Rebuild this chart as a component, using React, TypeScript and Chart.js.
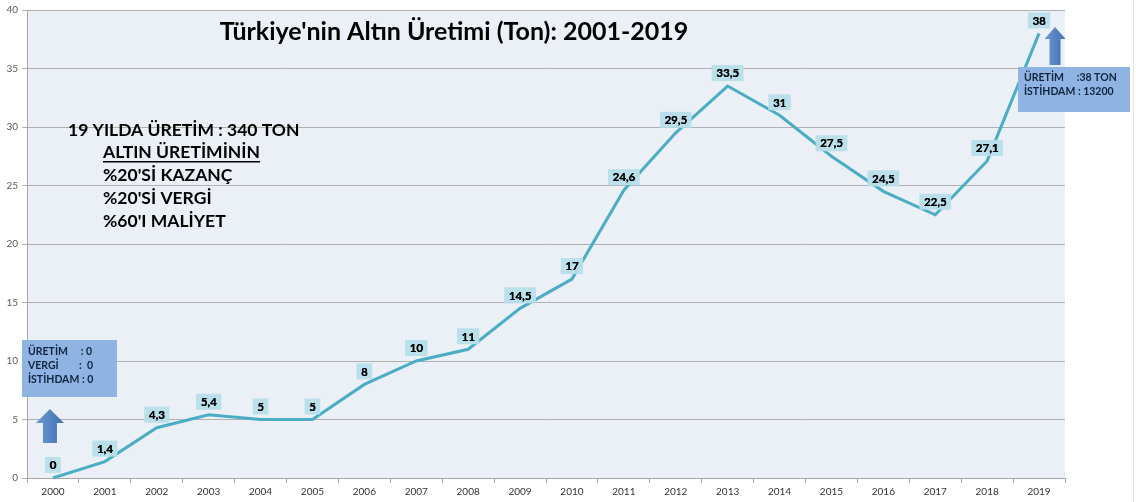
import React, { useEffect, useRef } from 'react';
import { Chart, registerables } from 'chart.js';

Chart.register(...registerables);

const years = ['2000', '2001', '2002', '2003', '2004', '2005', '2006', '2007', '2008', '2009', '2010', '2011', '2012', '2013', '2014', '2015', '2016', '2017', '2018', '2019'];
const production = [0, 1.4, 4.3, 5.4, 5, 5, 8, 10, 11, 14.5, 17, 24.6, 29.5, 33.5, 31, 27.5, 24.5, 22.5, 27.1, 38];
const yMin = 0;
const yMax = 40;
const yStep = 5;

const chartTitle = "Türkiye'nin Altın Üretimi (Ton): 2001-2019";
const summaryHeadline = '19 YILDA ÜRETİM : 340 TON';
const summaryUnderlined = 'ALTIN ÜRETİMİNİN';
const summaryLines = ["%20'Sİ KAZANÇ", "%20'Sİ VERGİ", "%60'I MALİYET"];
const startBoxLines = ['ÜRETİM     : 0', 'VERGİ        :  0', 'İSTİHDAM : 0'];
const endBoxLines = ['ÜRETİM     :38 TON', 'İSTİHDAM : 13200'];

const FONT = 'Lato, "Open Sans", "DejaVu Sans", sans-serif';
const LINE_COLOR = '#4BACC6';
const PLOT_BG = '#EAF0F5';
const BOX_BG = '#8FB4E3';

function drawUpArrow(ctx: CanvasRenderingContext2D, cx: number, tipY: number, headW: number, headH: number, shaftW: number, totalH: number) {
  ctx.save();
  const g = ctx.createLinearGradient(cx - headW / 2, 0, cx + headW / 2, 0);
  g.addColorStop(0, '#6E9AD6');
  g.addColorStop(1, '#3F6FB0');
  ctx.fillStyle = g;
  ctx.beginPath();
  ctx.moveTo(cx, tipY);
  ctx.lineTo(cx + headW / 2, tipY + headH);
  ctx.lineTo(cx + shaftW / 2, tipY + headH);
  ctx.lineTo(cx + shaftW / 2, tipY + totalH);
  ctx.lineTo(cx - shaftW / 2, tipY + totalH);
  ctx.lineTo(cx - shaftW / 2, tipY + headH);
  ctx.lineTo(cx - headW / 2, tipY + headH);
  ctx.closePath();
  ctx.fill();
  ctx.restore();
}

const decorPlugin = {
  id: 'decor',
  beforeDraw(chart: any) {
    const { ctx, chartArea } = chart;
    ctx.save();
    ctx.fillStyle = '#ffffff';
    ctx.fillRect(0, 0, chart.width, chart.height);
    ctx.fillStyle = PLOT_BG;
    ctx.fillRect(chartArea.left, chartArea.top, chartArea.right - chartArea.left, chartArea.bottom - chartArea.top);
    ctx.restore();
  },
  afterDatasetsDraw(chart: any) {
    const { ctx, scales } = chart;
    const xs = scales.x;
    const ys = scales.y;
    ctx.save();
    ctx.font = `bold 11.5px ${FONT}`;
    ctx.textAlign = 'center';
    ctx.textBaseline = 'middle';
    production.forEach((v, i) => {
      const x = xs.getPixelForValue(i);
      const y = ys.getPixelForValue(v) - 13;
      const txt = String(v).replace('.', ',');
      const w = ctx.measureText(txt).width + 9;
      const h = 16;
      ctx.fillStyle = 'rgba(183,222,234,0.95)';
      ctx.fillRect(x - w / 2, y - h / 2, w, h);
      ctx.fillStyle = '#000';
      ctx.fillText(txt, x, y + 0.5);
      ctx.fillText(txt, x + 0.3, y + 0.5);
    });
    ctx.restore();
  },
  afterDraw(chart: any) {
    const { ctx, scales } = chart;
    const xs = scales.x;
    ctx.save();
    // title
    ctx.fillStyle = '#000';
    ctx.textAlign = 'center';
    ctx.textBaseline = 'middle';
    ctx.font = `bold 25px ${FONT}`;
    ctx.fillText(chartTitle, 454, 32);

    // summary block
    ctx.textAlign = 'left';
    ctx.font = `bold 17.5px ${FONT}`;
    ctx.fillText(summaryHeadline, 68, 130);
    ctx.fillText(summaryUnderlined, 103, 152);
    const uw = ctx.measureText(summaryUnderlined).width;
    ctx.fillRect(103, 161, uw, 1.5);
    summaryLines.forEach((t, i) => ctx.fillText(t, 103, 175 + i * 23));

    // start box
    const x0 = xs.getPixelForValue(0);
    ctx.fillStyle = BOX_BG;
    ctx.fillRect(22, 340, 95, 57);
    ctx.fillStyle = '#0F243E';
    ctx.font = `bold 10.5px ${FONT}`;
    startBoxLines.forEach((t, i) => ctx.fillText(t, 28, 352 + i * 14));
    drawUpArrow(ctx, x0 - 3, 409, 28, 14, 14, 34);

    // end box
    const x19 = xs.getPixelForValue(production.length - 1);
    drawUpArrow(ctx, x19 + 16, 27, 21, 12, 11, 38);
    ctx.fillStyle = BOX_BG;
    ctx.fillRect(1018, 67, 112, 45);
    ctx.fillStyle = '#0F243E';
    ctx.font = `bold 10.5px ${FONT}`;
    endBoxLines.forEach((t, i) => ctx.fillText(t, 1024, 78 + i * 14));

    // outer faint border on the right
    ctx.fillStyle = '#E3E3E3';
    ctx.fillRect(chart.width - 3, 0, 1, chart.height);
    ctx.restore();
  },
};

export default function App() {
  const ref = useRef<HTMLCanvasElement>(null);
  useEffect(() => {
    document.body.style.margin = '0';
    const chart = new Chart(ref.current!, {
      type: 'line',
      data: {
        labels: years,
        datasets: [
          {
            data: production,
            borderColor: LINE_COLOR,
            borderWidth: 3,
            pointRadius: 0,
            tension: 0,
            fill: false,
          },
        ],
      },
      options: {
        animation: false,
        responsive: true,
        maintainAspectRatio: false,
        layout: { padding: { top: 6, right: 71, left: 0, bottom: 0 } },
        plugins: {
          legend: { display: false },
          tooltip: { enabled: false },
          title: { display: false },
        },
        scales: {
          x: {
            type: 'category',
            offset: true,
            grid: { offset: true, drawOnChartArea: false, drawTicks: true, tickLength: 5, color: '#A6A6A6' },
            border: { color: '#A6A6A6' },
            ticks: { font: { size: 10, family: FONT }, color: '#333', padding: 3, maxRotation: 0, autoSkip: false },
            afterFit: (s: any) => {
              s.height = 24;
            },
          },
          y: {
            min: yMin,
            max: yMax,
            ticks: { stepSize: yStep, font: { size: 10, family: FONT }, color: '#595959', padding: 4 },
            grid: { color: '#B0B0B0', tickLength: 5 },
            border: { color: '#A6A6A6' },
            afterFit: (s: any) => {
              s.width = 27;
            },
          },
        },
      },
      plugins: [decorPlugin],
    });
    return () => chart.destroy();
  }, []);
  return (
    <div style={{ width: 1136, height: 502, position: 'relative' }}>
      <canvas ref={ref} />
    </div>
  );
}
